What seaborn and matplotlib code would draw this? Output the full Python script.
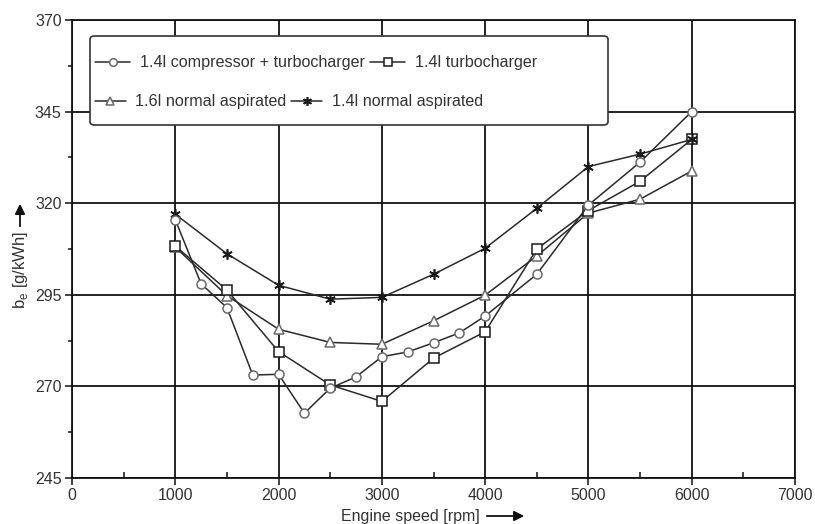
import matplotlib
matplotlib.use("Agg")
import matplotlib.pyplot as plt
import pandas as pd
import seaborn as sns
from matplotlib.patches import FancyBboxPatch, FancyArrowPatch
from matplotlib.lines import Line2D
from matplotlib.ticker import MultipleLocator, FixedLocator

# Specific fuel consumption b_e [g/kWh] over engine speed [rpm]
rpm_fine = [1000, 1250, 1500, 1750, 2000, 2250, 2500, 2750, 3000,
            3250, 3500, 3750, 4000, 4500, 5000, 5500, 6000]
comp_turbo = [315.5, 298.0, 291.5, 273.1, 273.3, 262.7, 269.5, 272.6, 278.1,
              279.4, 281.9, 284.6, 289.2, 300.6, 319.5, 331.2, 345.0]

rpm = [1000, 1500, 2000, 2500, 3000, 3500, 4000, 4500, 5000, 5500, 6000]
turbo_14 = [308.3, 296.3, 279.5, 270.4, 265.9, 277.7, 284.9, 307.5, 318.0, 326.0, 337.4]
na_16 = [308.0, 294.8, 285.6, 282.0, 281.5, 287.9, 294.9, 305.6, 317.3, 321.1, 328.8]
na_14 = [317.0, 306.2, 297.6, 293.8, 294.3, 300.6, 307.7, 318.6, 330.0, 333.4, 337.4]

y_ticks = [245, 270, 295, 320, 345, 370]
y_minor = [257.5, 282.5, 307.5, 332.5, 357.5]
x_ticks = [0, 1000, 2000, 3000, 4000, 5000, 6000, 7000]

labels = ["1.4l compressor + turbocharger", "1.4l turbocharger",
          "1.6l normal aspirated", "1.4l normal aspirated"]

sns.set_theme(style="white")
plt.rcParams["font.family"] = ["Liberation Sans", "DejaVu Sans"]

W, H = 815, 524
fig = plt.figure(figsize=(W / 100, H / 100), dpi=100)
ax = fig.add_axes([72 / W, 1 - 478 / H, (795 - 72) / W, (478 - 20) / H])

line_c = "#2a2a2a"
styles = {
    labels[0]: dict(marker="o", markersize=6.5, markerfacecolor="white",
                    markeredgecolor="#6a6a6a", markeredgewidth=1.1),
    labels[1]: dict(marker="s", markersize=7, markerfacecolor="white",
                    markeredgecolor="#1a1a1a", markeredgewidth=1.1),
    labels[2]: dict(marker="^", markersize=6.5, markerfacecolor="white",
                    markeredgecolor="#6a6a6a", markeredgewidth=1.1),
    labels[3]: dict(marker=(6, 2, 0), markersize=7.5, markerfacecolor=line_c,
                    markeredgecolor="#1a1a1a", markeredgewidth=1.2),
}

df_ct = pd.DataFrame({"rpm": rpm_fine, "be": comp_turbo})
df_t = pd.DataFrame({"rpm": rpm, "be": turbo_14})
df_n16 = pd.DataFrame({"rpm": rpm, "be": na_16})
df_n14 = pd.DataFrame({"rpm": rpm, "be": na_14})

for df, lab in [(df_n16, labels[2]), (df_t, labels[1]),
                (df_n14, labels[3]), (df_ct, labels[0])]:
    sns.lineplot(data=df, x="rpm", y="be", ax=ax, color=line_c, linewidth=1.1,
                 legend=False, zorder=3, **styles[lab])

ax.set_xlim(0, 7000)
ax.set_ylim(245, 370)
ax.xaxis.set_major_locator(FixedLocator(x_ticks))
ax.xaxis.set_minor_locator(MultipleLocator(500))
ax.yaxis.set_major_locator(FixedLocator(y_ticks))
ax.yaxis.set_minor_locator(FixedLocator(y_minor))
ax.grid(True, which="major", color="#111111", linewidth=1.3)
ax.set_axisbelow(True)
for s in ax.spines.values():
    s.set_color("#111111")
    s.set_linewidth(1.3)
ax.tick_params(which="major", direction="out", length=5, width=1.1,
               color="#111111", labelsize=11.5, labelcolor="#333333", pad=2.5,
               bottom=True, left=True)
ax.tick_params(axis="x", which="minor", direction="in", length=4, width=1.1,
               color="#111111", bottom=True)
ax.tick_params(axis="y", which="minor", direction="out", length=3, width=1.1,
               color="#111111", left=True)
ax.set_xlabel("")
ax.set_ylabel("")

# Axis titles with arrows
fig.text(20 / W, 1 - 270 / H, r"b$_\mathregular{e}$ [g/kWh]", rotation=90,
         ha="center", va="center", fontsize=12, color="#333333")
fig.add_artist(FancyArrowPatch(
    (20 / W, 1 - 229 / H), (20 / W, 1 - 201 / H), transform=fig.transFigure,
    arrowstyle="-|>,head_length=6,head_width=3", color="#111111", lw=1.3))
fig.text(410 / W, 1 - 516 / H, "Engine speed [rpm]", ha="center", va="center",
         fontsize=11.5, color="#333333")
fig.add_artist(FancyArrowPatch(
    (484 / W, 1 - 516 / H), (527 / W, 1 - 516 / H), transform=fig.transFigure,
    arrowstyle="-|>,head_length=6,head_width=3", color="#111111", lw=1.3))

# Legend frame and two rows of entries
x0, y0, x1, y1 = 90, 36, 608, 125
frame = FancyBboxPatch((x0 / W, 1 - y1 / H), (x1 - x0) / W, (y1 - y0) / H,
                       boxstyle="round,pad=0,rounding_size=0.006",
                       transform=fig.transFigure, facecolor="white",
                       edgecolor="#333333", linewidth=1.2, zorder=4)
fig.add_artist(frame)


def handle(lab):
    st = dict(styles[lab])
    st["markersize"] = st["markersize"] * 0.85
    return Line2D([], [], color=line_c, linewidth=1.1, **st)


for row, ypix, hl in [((labels[0], labels[1]), 63, 2.2),
                      ((labels[2], labels[3]), 102, 1.9)]:
    leg = fig.legend([handle(l) for l in row], list(row), ncol=2,
                     loc="center left", bbox_to_anchor=(95 / W, 1 - ypix / H),
                     bbox_transform=fig.transFigure, frameon=False,
                     borderpad=0, borderaxespad=0, handlelength=hl,
                     handletextpad=0.6, columnspacing=0.3, fontsize=11.6)
    for t in leg.get_texts():
        t.set_color("#333333")
    leg.set_zorder(5)

fig.savefig("out.png", dpi=100)
